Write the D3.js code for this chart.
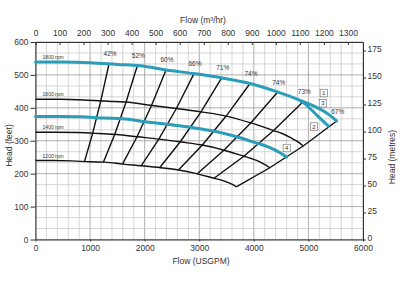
<!DOCTYPE html>
<html>
<head>
<meta charset="utf-8">
<script src="https://cdn.jsdelivr.net/npm/d3@7"></script>
<style>
  body { margin: 0; background: #fff; }
  text { font-family: "Liberation Sans", Arial, sans-serif; fill: #333; }
</style>
</head>
<body>
<div id="app"></div>
<script>
// pump curves, flow in USGPM, head in feet
const flow1800 = [0, 500, 1000, 1500, 1915, 2400, 2900, 3440, 3930, 4420, 4907, 5084, 5249, 5395, 5518];
const head1800 = [539, 539, 537, 532, 528, 515, 504, 490, 474, 449, 419, 407, 393, 377, 360];
const flowTrim2 = [4850, 4938, 5030, 5176, 5364];
const headTrim2 = [421, 412, 398, 374, 345];
const flow1600 = [0, 444, 889, 1333, 1702, 2133, 2578, 3058, 3493, 3929, 4362, 4519, 4666, 4796, 4905];
const head1600 = [426, 426, 424, 420, 417, 407, 398, 387, 375, 355, 331, 322, 310, 298, 284];
const flow1500 = [0, 417, 833, 1250, 1596, 2000, 2417, 2867, 3275, 3683, 4089, 4237, 4374, 4496, 4598];
const head1500 = [374, 374, 373, 369, 367, 358, 350, 340, 329, 312, 291, 283, 273, 262, 250];
const flow1400 = [0, 389, 778, 1167, 1489, 1867, 2256, 2676, 3057, 3438, 3817, 3954, 4083, 4196, 4292];
const head1400 = [326, 326, 325, 322, 319, 312, 305, 296, 287, 272, 253, 246, 238, 228, 218];
const flow1200 = [0, 333, 667, 1000, 1277, 1600, 1933, 2293, 2620, 2947, 3271, 3389, 3499, 3597, 3679];
const head1200 = [240, 240, 239, 236, 235, 229, 224, 218, 211, 200, 186, 181, 175, 168, 160];

const speedLabels = ["1800 rpm", "1600 rpm", "1400 rpm", "1200 rpm"];

// iso-efficiency lines: points on the 1800, 1600, 1400, 1200 rpm curves
const effLabels = ["42%", "52%", "60%", "66%", "71%", "74%", "74%", "73%", "67%"];
const effFlows = [
  [1347, 1197, 1048, 898],
  [1865, 1658, 1451, 1243],
  [2391, 2125, 1860, 1594],
  [2904, 2581, 2259, 1936],
  [3411, 3032, 2653, 2274],
  [3930, 3493, 3057, 2620],
  [4437, 3944, 3451, 2958],
  [4907, 4362, 3817, 3271],
  [5518, 4905, 4292, 3679]
];
const effHeads = [
  [534, 422, 323, 237],
  [528, 417, 319, 235],
  [515, 407, 312, 229],
  [504, 398, 305, 224],
  [491, 388, 297, 218],
  [474, 375, 287, 211],
  [448, 354, 271, 199],
  [419, 331, 253, 186],
  [360, 284, 218, 160]
];

const boxLabels = ["1", "3", "2", "4"];
const boxFlow = [5280, 5264, 5103, 4602];
const boxHead = [445, 414, 343, 278];

const xTicks = [0, 1000, 2000, 3000, 4000, 5000, 6000];
const yTicks = [0, 100, 200, 300, 400, 500, 600];
const m3Ticks = [0, 100, 200, 300, 400, 500, 600, 700, 800, 900, 1000, 1100, 1200, 1300];
const metreTicks = [0, 25, 50, 75, 100, 125, 150, 175];

const width = 402;
const height = 289;
const plotLeft = 35.5, plotRight = 363, plotTop = 42, plotBottom = 239.5;
const teal = "#2a9db8";
const fmt = d3.format("d");

const x = d3.scaleLinear().domain([0, 6000]).range([plotLeft, plotRight]);
const y = d3.scaleLinear().domain([0, 600]).range([plotBottom, plotTop]);
const xM3 = d3.scaleLinear().domain([0, 6000 / 4.4029]).range([plotLeft, plotRight]);
const yM = d3.scaleLinear().domain([0, 600 * 0.3048]).range([plotBottom, plotTop]);

const svg = d3.select("#app").append("svg")
  .attr("width", width)
  .attr("height", height);

// grid
const grid = svg.append("g");
grid.selectAll("line.v")
  .data(d3.range(0, 6001, 200))
  .enter().append("line")
  .attr("x1", d => x(d)).attr("x2", d => x(d))
  .attr("y1", plotTop).attr("y2", plotBottom)
  .attr("stroke", d => d % 1000 === 0 ? "#999" : "#cbcbcb")
  .attr("stroke-width", 0.8);
grid.selectAll("line.h")
  .data(d3.range(0, 19).map(i => i * 100 / 3))
  .enter().append("line")
  .attr("x1", plotLeft).attr("x2", plotRight)
  .attr("y1", d => y(d)).attr("y2", d => y(d))
  .attr("stroke", (d, i) => i % 3 === 0 ? "#999" : "#cbcbcb")
  .attr("stroke-width", 0.8);

// axes
const styleAxis = g => {
  g.selectAll("path").attr("stroke", "#333");
  g.selectAll("line").attr("stroke", "#333");
  g.selectAll("text").attr("font-size", "8.5px").attr("fill", "#333")
    .attr("font-family", "Liberation Sans, Arial, sans-serif");
};
svg.append("g").attr("transform", `translate(0,${plotBottom})`)
  .call(d3.axisBottom(x).tickValues(xTicks).tickFormat(fmt).tickSizeInner(2).tickSizeOuter(0).tickPadding(3.5))
  .call(styleAxis);
svg.append("g").attr("transform", `translate(${plotLeft},0)`)
  .call(d3.axisLeft(y).tickValues(yTicks).tickFormat(fmt).tickSizeInner(5).tickSizeOuter(0).tickPadding(2))
  .call(styleAxis);
svg.append("g").attr("transform", `translate(0,${plotTop})`)
  .call(d3.axisTop(xM3).tickValues(m3Ticks).tickFormat(fmt).tickSizeInner(-3).tickSizeOuter(0).tickPadding(6))
  .call(styleAxis);
svg.append("g").attr("transform", `translate(${plotRight},0)`)
  .call(d3.axisRight(yM).tickValues(metreTicks).tickFormat(fmt).tickSizeInner(3).tickSizeOuter(0).tickPadding(1.5))
  .call(styleAxis)
  .call(g => g.selectAll("text").attr("dy", "0.15em"));

// axis titles
svg.append("text").attr("x", 203).attr("y", 23).attr("text-anchor", "middle")
  .attr("font-size", "8.5px").text("Flow (m³/hr)");
svg.append("text").attr("x", 201).attr("y", 264).attr("text-anchor", "middle")
  .attr("font-size", "8.5px").text("Flow (USGPM)");
svg.append("text").attr("transform", "translate(12,145.5) rotate(-90)")
  .attr("text-anchor", "middle").attr("font-size", "8.5px").text("Head (feet)");
svg.append("text").attr("transform", "translate(394.5,157) rotate(-90)")
  .attr("text-anchor", "middle").attr("font-size", "8.5px").text("Head (metres)");

const line = d3.line().x(d => x(d[0])).y(d => y(d[1])).curve(d3.curveMonotoneX);
const straight = d3.line().x(d => x(d[0])).y(d => y(d[1]));
const pts = (fs, hs) => fs.map((f, i) => [f, hs[i]]);

// black speed curves
const blackCurves = [pts(flow1600, head1600), pts(flow1400, head1400), pts(flow1200, head1200)];
svg.selectAll("path.speed")
  .data(blackCurves)
  .enter().append("path")
  .attr("d", line)
  .attr("fill", "none")
  .attr("stroke", "#111")
  .attr("stroke-width", 1.4);

// efficiency lines
svg.selectAll("path.eff")
  .data(effFlows.map((fs, i) => pts(fs, effHeads[i])))
  .enter().append("path")
  .attr("d", straight)
  .attr("fill", "none")
  .attr("stroke", "#111")
  .attr("stroke-width", 1.4);

// teal curves
const tealCurves = [pts(flow1800, head1800), pts(flowTrim2, headTrim2), pts(flow1500, head1500)];
svg.selectAll("path.teal")
  .data(tealCurves)
  .enter().append("path")
  .attr("d", line)
  .attr("fill", "none")
  .attr("stroke", teal)
  .attr("stroke-width", 3)
  .attr("stroke-linecap", "round");

// speed labels
const labelHeads = [head1800[0], head1600[0], head1400[0], head1200[0]];
svg.selectAll("text.rpm")
  .data(speedLabels)
  .enter().append("text")
  .attr("x", x(130))
  .attr("y", (d, i) => y(labelHeads[i]) - 3)
  .attr("font-size", "5px")
  .attr("fill", "#222")
  .text(d => d);

// efficiency labels
svg.selectAll("text.eff")
  .data(effLabels)
  .enter().append("text")
  .attr("x", (d, i) => x(effFlows[i][0]) + 1)
  .attr("y", (d, i) => y(effHeads[i][0]) - 7.5)
  .attr("text-anchor", "middle")
  .attr("font-size", "6.5px")
  .attr("fill", "#222")
  .text(d => d);

// numbered boxes
const boxes = svg.selectAll("g.box")
  .data(boxLabels)
  .enter().append("g")
  .attr("transform", (d, i) => `translate(${x(boxFlow[i])},${y(boxHead[i])})`);
boxes.append("rect")
  .attr("x", -3.6).attr("y", -3.8).attr("width", 7.2).attr("height", 7.6)
  .attr("fill", "#fff").attr("stroke", "#666").attr("stroke-width", 0.6);
boxes.append("text")
  .attr("text-anchor", "middle").attr("y", 2.1)
  .attr("font-size", "6px").attr("fill", "#222")
  .text(d => d);
</script>
</body>
</html>
